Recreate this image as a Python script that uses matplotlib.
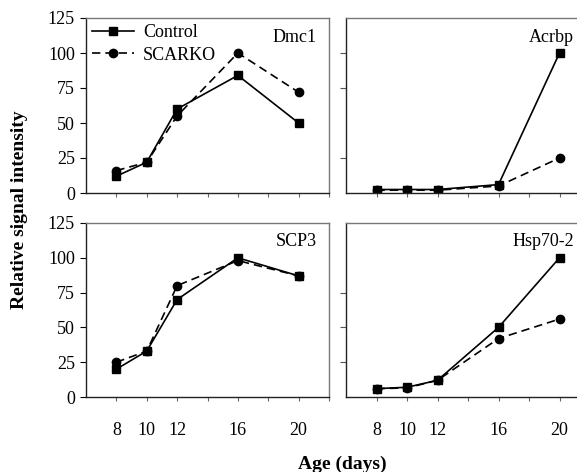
import matplotlib
matplotlib.use("Agg")
import matplotlib.pyplot as plt

plt.rcParams['font.family'] = ['Liberation Serif', 'DejaVu Serif']

days = [8, 10, 12, 16, 20]
tick_labels = ['8', '10', '12', '16', '20']

dmc1_control = [12, 22, 60, 84, 50]
dmc1_scarko = [16, 22, 55, 100, 72]
acrbp_control = [2.5, 2.5, 2.5, 6, 100]
acrbp_scarko = [2, 2, 2, 5, 25]
scp3_control = [20, 33, 70, 100, 87]
scp3_scarko = [25, 33, 80, 98, 87]
hsp_control = [6, 7, 12, 50, 100]
hsp_scarko = [6, 6.5, 12, 42, 56]

panels = [
    ("Dmc1", dmc1_control, dmc1_scarko),
    ("Acrbp", acrbp_control, acrbp_scarko),
    ("SCP3", scp3_control, scp3_scarko),
    ("Hsp70-2", hsp_control, hsp_scarko),
]

W, H = 577, 472
fig = plt.figure(figsize=(W / 100, H / 100), dpi=100)

def rect(x0, y0, x1, y1):
    return [x0 / W, 1 - y1 / H, (x1 - x0) / W, (y1 - y0) / H]

rects = [
    rect(86, 18, 329, 193),
    rect(346, 18, 590, 193),
    rect(86, 223, 329, 397),
    rect(346, 223, 590, 397),
]
right_yticks = [[25, 75, 100], [25, 50, 75]]
FS = 13

for i, ((name, ctrl, sca), r) in enumerate(zip(panels, rects)):
    ax = fig.add_axes(r)
    ax.plot(days, ctrl, color='black', lw=1.2, marker='s', ms=6,
            label='Control')
    ax.plot(days, sca, color='black', lw=1.2, ls=(0, (5, 3)), marker='o',
            ms=6, label='SCARKO')
    ax.set_xlim(6, 22)
    ax.set_ylim(0, 125)
    ax.set_xticks(range(8, 23, 2), minor=True)
    ax.set_xticks(days)
    ax.tick_params(axis='x', which='both', length=3, width=0.8,
                   direction='out', color='#666666')
    if i % 2 == 0:
        ax.set_yticks([0, 25, 50, 75, 100, 125])
        ax.tick_params(axis='y', length=4, width=0.8, labelsize=FS, pad=4)
    else:
        ax.set_yticks(right_yticks[i // 2])
        ax.tick_params(axis='y', length=4, width=0.8, labelleft=False,
                       color='#555555')
    if i < 2:
        ax.tick_params(axis='x', which='both', labelbottom=False)
    else:
        ax.set_xticklabels(tick_labels)
        ax.tick_params(axis='x', labelsize=FS, pad=15)
    for s in ['left', 'bottom']:
        ax.spines[s].set_color('#222222')
        ax.spines[s].set_linewidth(1.0)
    for s in ['top', 'right']:
        ax.spines[s].set_color('#777777')
        ax.spines[s].set_linewidth(1.0)
    tx = 0.95 if i % 2 == 0 else (20.95 - 6) / 16
    ax.text(tx, 0.94, name, transform=ax.transAxes, ha='right', va='top',
            fontsize=FS)
    if i == 0:
        ax.legend(loc='upper left', frameon=False, fontsize=FS,
                  handlelength=2.3, borderaxespad=0.2, labelspacing=0.3,
                  handletextpad=0.5, borderpad=0.15)

fig.text(20 / W, 1 - 210 / H, 'Relative signal intensity', rotation=90,
         ha='center', va='center', fontsize=14, fontweight='bold')
fig.text(342 / W, 1 - 464 / H, 'Age (days)', ha='center', va='center',
         fontsize=14, fontweight='bold')

fig.savefig('out.png', dpi=100)
